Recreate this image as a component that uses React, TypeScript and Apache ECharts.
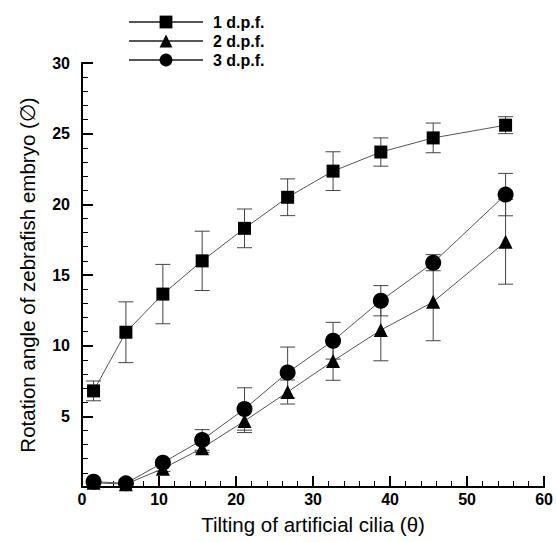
import React, { useEffect, useRef } from "react";
import * as echarts from "echarts";

const xs = [1.5, 5.7, 10.5, 15.6, 21.1, 26.7, 32.6, 38.8, 45.6, 55.0];
const dpf1 = [6.8, 10.95, 13.65, 16.0, 18.3, 20.5, 22.35, 23.7, 24.7, 25.6];
const dpf1Err = [0.7, 2.15, 2.1, 2.1, 1.37, 1.3, 1.37, 1.0, 1.05, 0.6];
const dpf2 = [0.3, 0.2, 1.3, 2.75, 4.67, 6.72, 8.92, 11.1, 13.1, 17.35];
const dpf2Err = [0.0, 0.0, 0.2, 0.3, 0.82, 0.85, 1.37, 2.17, 2.75, 3.0];
const dpf3 = [0.38, 0.26, 1.72, 3.33, 5.52, 8.1, 10.35, 13.18, 15.87, 20.69];
const dpf3Err = [0.0, 0.0, 0.2, 0.73, 1.5, 1.8, 1.3, 1.07, 0.57, 1.5];
const seriesNames = ["1 d.p.f.", "2 d.p.f.", "3 d.p.f."];

const FONT = "'Liberation Sans', Arial, sans-serif";

function errorSeries(vals: number[], errs: number[]) {
  const data = xs.map((x, i) => [x, vals[i] - errs[i], vals[i] + errs[i]]);
  return {
    type: "custom",
    silent: true,
    z: 1,
    renderItem: (params: any, api: any) => {
      const x = api.value(0);
      const lo = api.coord([x, api.value(1)]);
      const hi = api.coord([x, api.value(2)]);
      const half = 7.5;
      const style = { stroke: "#444", lineWidth: 1 };
      return {
        type: "group",
        children: [
          { type: "line", shape: { x1: lo[0], y1: lo[1], x2: hi[0], y2: hi[1] }, style },
          { type: "line", shape: { x1: lo[0] - half, y1: lo[1], x2: lo[0] + half, y2: lo[1] }, style },
          { type: "line", shape: { x1: hi[0] - half, y1: hi[1], x2: hi[0] + half, y2: hi[1] }, style },
        ],
      };
    },
    encode: { x: 0, y: [1, 2] },
    data,
  };
}

function lineSeries(name: string, vals: number[], symbol: string, size: number) {
  return {
    type: "line",
    name,
    symbol,
    symbolSize: size,
    z: 3,
    lineStyle: { color: "#555", width: 1 },
    itemStyle: { color: "#000" },
    data: xs.map((x, i) => [x, vals[i]]),
  };
}

export default function App() {
  const ref = useRef<HTMLDivElement>(null);
  useEffect(() => {
    if (!ref.current) return;
    const chart = echarts.init(ref.current, null, { renderer: "svg" });
    const axisCommon = {
      axisLine: { show: true, lineStyle: { color: "#000", width: 2 } },
      axisTick: { inside: true, length: 11, lineStyle: { color: "#000", width: 2 } },
      minorTick: { show: true, splitNumber: 5, length: 6, lineStyle: { color: "#000", width: 1 } },
      splitLine: { show: false },
      axisLabel: { color: "#000", fontFamily: FONT, fontWeight: "bold", fontSize: 16 },
      nameTextStyle: { color: "#000", fontFamily: FONT, fontSize: 20.5 },
    };
    chart.setOption({
      animation: false,
      backgroundColor: "#fff",
      grid: { left: 82, right: 9, top: 63, bottom: 55, containLabel: false },
      legend: {
        orient: "vertical",
        left: 128,
        top: 14,
        padding: 0,
        itemWidth: 74,
        itemHeight: 16,
        itemGap: 3,
        data: seriesNames,
        textStyle: { color: "#000", fontFamily: FONT, fontWeight: "bold", fontSize: 16, padding: [0, 0, 0, 5] },
      },
      xAxis: {
        ...axisCommon,
        type: "value",
        min: 0,
        max: 60,
        interval: 10,
        name: "Tilting of artificial cilia (θ)",
        nameLocation: "middle",
        nameGap: 27,
        axisLabel: { ...axisCommon.axisLabel, margin: 4 },
      },
      yAxis: {
        ...axisCommon,
        type: "value",
        min: 0,
        max: 30,
        interval: 5,
        name: "Rotation angle of zebrafish embryo (∅)",
        nameLocation: "middle",
        nameGap: 44,
        axisLabel: {
          ...axisCommon.axisLabel,
          margin: 12,
          formatter: (v: number) => (v === 0 ? "" : String(v)),
        },
      },
      series: [
        errorSeries(dpf1, dpf1Err),
        errorSeries(dpf2, dpf2Err),
        errorSeries(dpf3, dpf3Err),
        lineSeries(seriesNames[0], dpf1, "rect", 13),
        lineSeries(seriesNames[1], dpf2, "triangle", 14),
        lineSeries(seriesNames[2], dpf3, "circle", 16),
      ],
    });
    return () => chart.dispose();
  }, []);
  return <div ref={ref} style={{ width: 556, height: 542, position: "absolute", left: 0, top: 0 }} />;
}
